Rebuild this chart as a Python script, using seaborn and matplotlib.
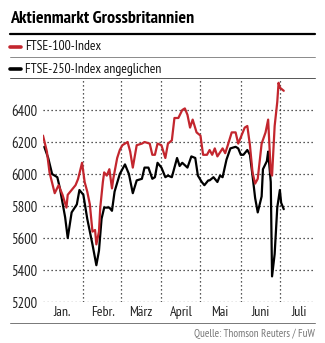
import matplotlib
matplotlib.use("Agg")
import matplotlib.pyplot as plt
from matplotlib.lines import Line2D
import pandas as pd
import seaborn as sns

# FTSE 100 (red)
ftse100_dates = [
    "01-01", "01-04", "01-06", "01-10", "01-13", "01-16", "01-19", "01-20", "01-23", "01-26",
    "01-28", "01-31", "02-02", "02-04", "02-06", "02-08", "02-10", "02-11", "02-13", "02-14",
    "02-16", "02-17", "02-19", "02-21", "02-23", "02-24", "02-27", "02-29", "03-02", "03-06",
    "03-08", "03-10", "03-13", "03-17", "03-19", "03-23", "03-25", "03-27", "03-29", "04-01",
    "04-04", "04-06", "04-09", "04-11", "04-14", "04-17", "04-19", "04-21", "04-23", "04-25",
    "04-28", "05-01", "05-03", "05-06", "05-08", "05-10", "05-12", "05-14", "05-18", "05-20",
    "05-22", "05-25", "05-28", "05-30", "06-02", "06-04", "06-06", "06-08", "06-10", "06-12",
    "06-14", "06-17", "06-20", "06-22", "06-24", "06-25", "06-27", "06-29", "06-30", "07-01",
    "07-04",
]
ftse100_values = [
    6240, 6140, 6010, 5880, 5930, 5870, 5790, 5870, 5900, 5930,
    5970, 6070, 5950, 5890, 5810, 5640, 5650, 5560, 5640, 5790,
    5950, 6010, 5990, 6030, 5910, 5970, 6100, 6150, 6180, 6200,
    6140, 6040, 6180, 6190, 6200, 6190, 6120, 6120, 6190, 6180,
    6100, 6190, 6210, 6350, 6350, 6400, 6410, 6370, 6290, 6340,
    6260, 6240, 6120, 6120, 6150, 6120, 6160, 6110, 6160, 6130,
    6180, 6260, 6260, 6190, 6250, 6290, 6300, 6180, 6010, 5940,
    5970, 6190, 6260, 6340, 6010, 5990, 6300, 6450, 6570, 6540,
    6520,
]

# FTSE 250, rebased to the FTSE 100 (black)
ftse250_dates = [
    "01-02", "01-05", "01-08", "01-12", "01-14", "01-18", "01-20", "01-23", "01-27", "01-29",
    "02-01", "02-04", "02-08", "02-11", "02-13", "02-15", "02-17", "02-21", "02-23", "02-25",
    "02-29", "03-04", "03-07", "03-10", "03-13", "03-17", "03-19", "03-22", "03-25", "03-27",
    "03-29", "04-01", "04-04", "04-06", "04-09", "04-13", "04-15", "04-17", "04-21", "04-24",
    "04-27", "04-29", "05-02", "05-04", "05-07", "05-08", "05-11", "05-14", "05-16", "05-18",
    "05-21", "05-24", "05-28", "05-30", "06-01", "06-03", "06-06", "06-08", "06-10", "06-12",
    "06-14", "06-17", "06-18", "06-21", "06-22", "06-24", "06-25", "06-27", "06-29", "07-01",
    "07-02", "07-04",
]
ftse250_values = [
    6170, 6100, 6000, 5980, 5910, 5730, 5600, 5760, 5810, 5900,
    5870, 5720, 5560, 5430, 5520, 5720, 5790, 5790, 5770, 5890,
    6000, 6060, 6000, 5880, 5960, 5970, 6040, 6040, 5970, 5980,
    6070, 6040, 5980, 5990, 5980, 6100, 6050, 6070, 6040, 6110,
    6100, 5990, 5950, 5930, 5960, 5960, 5980, 5950, 5990, 5980,
    6090, 6160, 6170, 6160, 6120, 6120, 6150, 6120, 5990, 5850,
    5760, 5860, 6030, 6080, 6140, 5950, 5360, 5500, 5790, 5900,
    5820, 5780,
]

series_names = ["FTSE-100-Index", "FTSE-250-Index angeglichen"]
month_labels = ["Jan.", "Febr.", "März", "April", "Mai", "Juni", "Juli"]
y_ticks = [5200, 5400, 5600, 5800, 6000, 6200, 6400]
year = 2016

red = "#c3262e"
narrow = ["PT Sans Narrow", "DejaVu Sans"]

df = pd.concat([
    pd.DataFrame({"Datum": pd.to_datetime([f"{year}-{d}" for d in ftse100_dates]),
                  "Wert": ftse100_values, "Serie": series_names[0]}),
    pd.DataFrame({"Datum": pd.to_datetime([f"{year}-{d}" for d in ftse250_dates]),
                  "Wert": ftse250_values, "Serie": series_names[1]}),
], ignore_index=True)

sns.set_style("white")
plt.rcParams["font.family"] = narrow

W, H = 325, 343
fig = plt.figure(figsize=(W / 100, H / 100), dpi=100)
ax = fig.add_axes([43 / W, 1 - 302 / H, (315 - 43) / W, (302 - 78) / H])

sns.lineplot(data=df, x="Datum", y="Wert", hue="Serie", hue_order=series_names[::-1],
             palette={series_names[0]: red, series_names[1]: "black"},
             linewidth=1.6, legend=False, ax=ax, estimator=None, sort=True)
# keep the red line above the black one
for ln in ax.get_lines():
    ln.set_zorder(3 if ln.get_color() == red else 2)

ax.set_ylim(5200, 6600)
ax.set_xlim(pd.Timestamp(f"{year}-01-01"), pd.Timestamp(f"{year}-07-28"))
ax.set_yticks(y_ticks)
ax.set_yticklabels([str(v) for v in y_ticks])

month_starts = [pd.Timestamp(f"{year}-{m:02d}-01") for m in range(2, 8)]
month_mids = [pd.Timestamp(f"{year}-{m:02d}-16") for m in range(1, 8)]
ax.set_xticks(month_starts)
ax.set_xticklabels([])
ax.set_xticks(month_mids, minor=True)
ax.set_xticklabels(month_labels, minor=True)

ax.grid(True, which="major", linestyle=(0, (1, 2.2)), color="#222222", linewidth=0.9)
ax.tick_params(which="both", length=0)
ax.tick_params(axis="y", labelsize=10.5, pad=4, colors="#222222")
ax.tick_params(axis="x", which="minor", labelsize=10, pad=3, colors="#222222")
for s in ax.spines.values():
    s.set_visible(False)
ax.set_xlabel("")
ax.set_ylabel("")

# header and footer rules
def hline(ypx, lw, color):
    fig.add_artist(Line2D([10 / W, 315 / W], [1 - ypx / H, 1 - ypx / H],
                          color=color, linewidth=lw, transform=fig.transFigure))

hline(34, 1.6, "black")
hline(57, 0.6, "#777777")
hline(78, 0.7, "#555555")
hline(323, 0.7, "#777777")

fig.text(10 / W, 1 - 19 / H, "Aktienmarkt Grossbritannien", fontsize=13,
         fontweight="bold", va="center", ha="left", color="black")

for ypx, color, name in [(47, red, series_names[0]), (69, "black", series_names[1])]:
    fig.add_artist(Line2D([10 / W, 21 / W], [1 - ypx / H, 1 - ypx / H],
                          color=color, linewidth=2.6, transform=fig.transFigure))
    fig.text(25 / W, 1 - ypx / H, name, fontsize=9.8, va="center", ha="left",
             color="#111111")

fig.text(315 / W, 1 - 334 / H, "Quelle: Thomson Reuters / FuW", fontsize=7.9,
         ha="right", va="center", color="#777777")

fig.savefig("out.png", dpi=100)
